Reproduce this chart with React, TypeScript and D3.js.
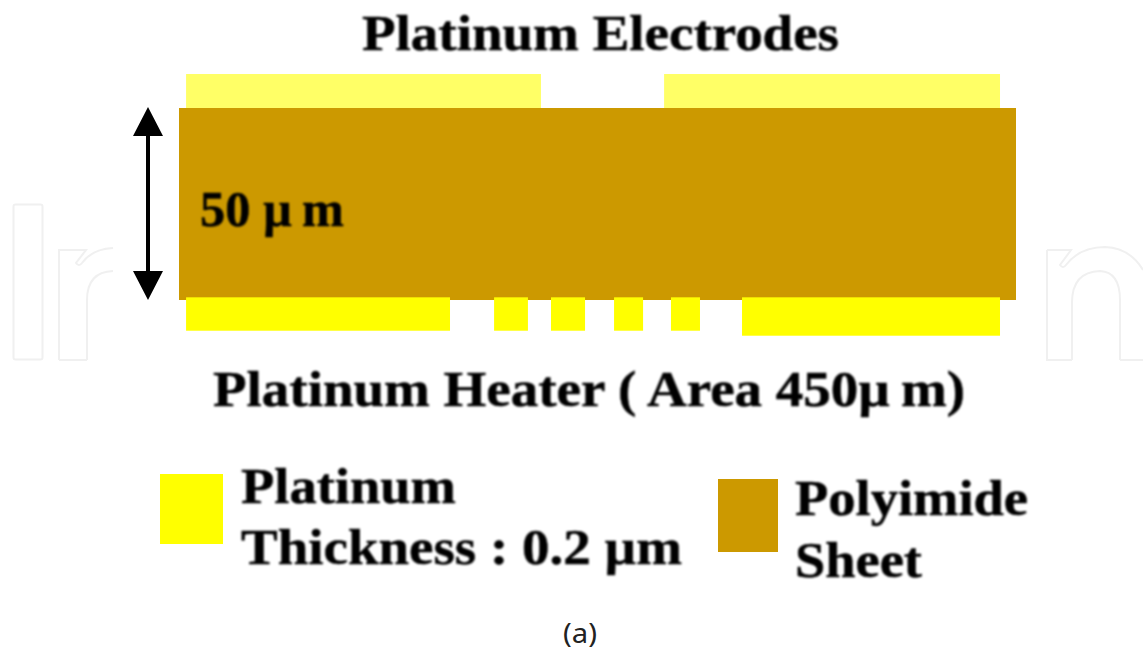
import React from "react";
import * as d3 from "d3";

const W = 1143, H = 653;
const topElectrodes = [[3.8, 194.6], [260.8, 441.4]];
const heaterSegments = [
  [3.8, 145.7, 58], [169.4, 187.6, 58], [200, 218.3, 58],
  [233.9, 249.5, 58], [264.5, 280.1, 58], [302.7, 441.4, 59.3],
];
const sheetWidth = 450, sheetThickness = 50;
const labels: [string, number, number, number][] = [
  ["Platinum Electrodes", 362, 839, 50],
  ["50 µ\u2009m", 200, 344, 226],
  ["Platinum Heater ( Area 450µ\u2009m)", 213, 965, 406],
  ["Platinum", 241, 456, 503],
  ["Thickness : 0.2 µm", 241, 682, 564],
  ["Polyimide", 795, 1028, 515],
  ["Sheet", 795, 922, 577],
];
const caption = "(a)";
const YELLOW = "#ffff00", PALE = "#ffff66", BROWN = "#cc9900";

const x = d3.scaleLinear().domain([0, sheetWidth]).range([179, 1016]);
const y = d3.scaleLinear().domain([0, sheetThickness]).range([108, 300]);
const mark = "#f0f0f0";
const serif = "'Liberation Serif', serif";

export default function App() {
  return (
    <svg width={W} height={H} viewBox={`0 0 ${W} ${H}`}
      style={{ position: "absolute", left: 0, top: 0, background: "#fff" }}>
      <defs>
        <filter id="soft" x="-5%" y="-30%" width="110%" height="160%"><feGaussianBlur stdDeviation="0.8" /></filter>
      </defs>
      <g fill="none" stroke={mark} strokeWidth={2}>
        <rect x={13.5} y={204.5} width={29} height={155} rx={2} />
        <path d="M59,360V250H86L76,263Q79,267 82,263Q92,249 113,248 M87,360V300Q87,272 113,271 M59,360H87" />
        <path d="M1047,250H1071L1060,265Q1063,269 1066,265Q1080,247 1105,247Q1130,248 1143,270 M1072,360V305Q1071,272 1100,271Q1120,272 1120,300V360 M1047,250V360H1072 M1120,360H1143" />
      </g>
      <rect x={x(0)} y={y(0)} width={x(sheetWidth) - x(0)} height={y(sheetThickness) - y(0)} fill={BROWN} />
      {topElectrodes.map(([a, b], i) => (
        <rect key={i} x={x(a)} y={y(-8.85)} width={x(b) - x(a)} height={y(0) - y(-8.85)} fill={PALE} />
      ))}
      {heaterSegments.map(([a, b, e], i) => (
        <rect key={i} x={x(a)} y={y(49.3)} width={x(b) - x(a)} height={y(e) - y(49.3)} fill={YELLOW} />
      ))}
      <rect x={160} y={474} width={63} height={70} fill={YELLOW} />
      <rect x={718} y={479} width={60} height={73} fill={BROWN} />
      <path d="M148,107L163,136H150V271H163L148,300L133,271H146V136H133Z" fill="#000" />
      <g fontFamily={serif} fontWeight={700} fill="#000" stroke="#000" strokeWidth={0.5} filter="url(#soft)">
        {labels.map(([t, a, b, base], i) => (
          <text key={i} x={a} y={base} fontSize={50} textLength={b - a} lengthAdjust="spacingAndGlyphs">{t}</text>
        ))}
      </g>
      <text x={563} y={643} fontFamily="'Noto Sans', sans-serif" fontSize={27} fill="#222" textLength={34} lengthAdjust="spacingAndGlyphs">{caption}</text>
    </svg>
  );
}
